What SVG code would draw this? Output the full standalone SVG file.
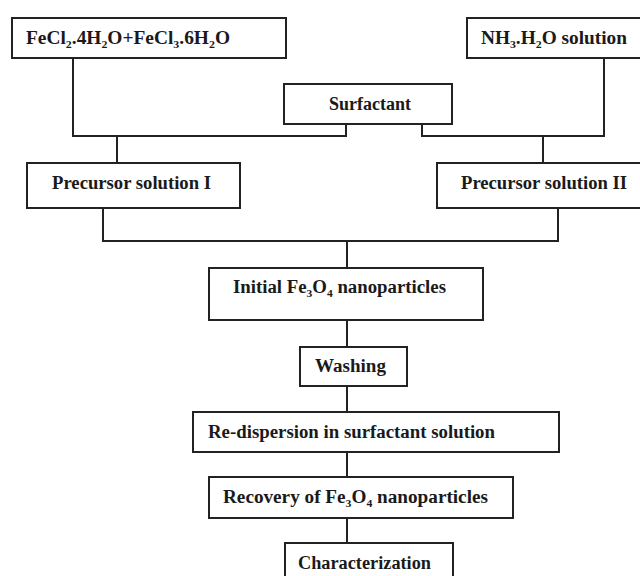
<svg xmlns="http://www.w3.org/2000/svg" width="640" height="576" viewBox="0 0 640 576">
<style>
.box{fill:#fff;stroke:#222;stroke-width:2}
.ln{fill:none;stroke:#222;stroke-width:2}
text{font-family:"Liberation Serif","Times New Roman",serif;font-weight:bold;font-size:18px;fill:#1a1a1a}
.sb{font-size:11px}
</style>
<rect width="640" height="576" fill="#fff"/>
<g id="connectors">
<polyline class="ln" points="73,58 73,136 346,136 346,124"/>
<polyline class="ln" points="604,58 604,136 422,136 422,124"/>
<line class="ln" x1="117" y1="136" x2="117" y2="163"/>
<line class="ln" x1="543" y1="136" x2="543" y2="163"/>
<polyline class="ln" points="103,208 103,241 558,241 558,208"/>
<line class="ln" x1="347" y1="241" x2="347" y2="268"/>
<line class="ln" x1="347" y1="320" x2="347" y2="347"/>
<line class="ln" x1="347" y1="386" x2="347" y2="412"/>
<line class="ln" x1="347" y1="452" x2="347" y2="477"/>
<line class="ln" x1="347" y1="518" x2="347" y2="543"/>
</g>
<g id="n-fecl">
<rect class="box" x="12" y="18" width="274" height="40"/>
<text x="26" y="44" textLength="204" lengthAdjust="spacingAndGlyphs">FeCl<tspan class="sb" dy="4">2</tspan><tspan dy="-4">.4H</tspan><tspan class="sb" dy="4">2</tspan><tspan dy="-4">O+FeCl</tspan><tspan class="sb" dy="4">3</tspan><tspan dy="-4">.6H</tspan><tspan class="sb" dy="4">2</tspan><tspan dy="-4">O</tspan></text>
</g>
<g id="n-nh3">
<rect class="box" x="467" y="18" width="180" height="40"/>
<text x="481" y="44" textLength="146" lengthAdjust="spacingAndGlyphs">NH<tspan class="sb" dy="4">3</tspan><tspan dy="-4">.H</tspan><tspan class="sb" dy="4">2</tspan><tspan dy="-4">O solution</tspan></text>
</g>
<g id="n-surf">
<rect class="box" x="284" y="84" width="168" height="40"/>
<text x="329" y="110" textLength="82" lengthAdjust="spacingAndGlyphs">Surfactant</text>
</g>
<g id="n-pre1">
<rect class="box" x="27" y="163" width="213" height="45"/>
<text x="52" y="189" textLength="159" lengthAdjust="spacingAndGlyphs">Precursor solution I</text>
</g>
<g id="n-pre2">
<rect class="box" x="437" y="163" width="210" height="45"/>
<text x="461" y="189" textLength="166" lengthAdjust="spacingAndGlyphs">Precursor solution II</text>
</g>
<g id="n-init">
<rect class="box" x="209" y="268" width="274" height="52"/>
<text x="233" y="293" textLength="213" lengthAdjust="spacingAndGlyphs">Initial Fe<tspan class="sb" dy="4">3</tspan><tspan dy="-4">O</tspan><tspan class="sb" dy="4">4</tspan><tspan dy="-4"> nanoparticles</tspan></text>
</g>
<g id="n-wash">
<rect class="box" x="300" y="347" width="107" height="39"/>
<text x="315" y="372" textLength="71" lengthAdjust="spacingAndGlyphs">Washing</text>
</g>
<g id="n-redisp">
<rect class="box" x="193" y="412" width="366" height="40"/>
<text x="208" y="438" textLength="287" lengthAdjust="spacingAndGlyphs">Re-dispersion in surfactant solution</text>
</g>
<g id="n-recov">
<rect class="box" x="209" y="477" width="304" height="41"/>
<text x="223" y="503" textLength="265" lengthAdjust="spacingAndGlyphs">Recovery of Fe<tspan class="sb" dy="4">3</tspan><tspan dy="-4">O</tspan><tspan class="sb" dy="4">4</tspan><tspan dy="-4"> nanoparticles</tspan></text>
</g>
<g id="n-char">
<rect class="box" x="285" y="543" width="168" height="45"/>
<text x="298" y="569" textLength="133" lengthAdjust="spacingAndGlyphs">Characterization</text>
</g>
</svg>
